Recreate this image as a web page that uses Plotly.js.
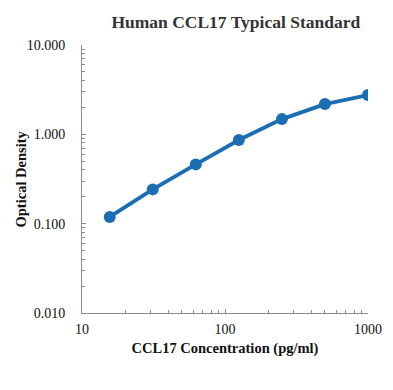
<!DOCTYPE html>
<html><head><meta charset="utf-8">
<script src="https://cdn.plot.ly/plotly-3.0.1.min.js"></script>
<style>html,body{margin:0;padding:0;background:#fff}#c{width:393px;height:390px}</style>
</head><body><div id="c"></div>
<script>
const concentration = [15.625, 31.25, 62.5, 125, 250, 500, 1000];
const opticalDensity = [0.119, 0.242, 0.461, 0.863, 1.48, 2.18, 2.75];
const yTickVals = [0.01, 0.1, 1, 10];
const yTickText = ["0.010", "0.100", "1.000", "10.000"];
const xTickVals = [10, 100, 1000];
const xTickText = ["10", "100", "1000"];

const font = "Liberation Serif, Times New Roman, serif";
Plotly.newPlot("c", [{
  x: concentration, y: opticalDensity, mode: "lines+markers", type: "scatter",
  line: {color: "#1b6db4", width: 3.8},
  marker: {color: "#1b6db4", size: 12},
  hoverinfo: "skip"
}], {
  width: 393, height: 390,
  margin: {l: 82, r: 25, t: 45, b: 77},
  paper_bgcolor: "#fff", plot_bgcolor: "#fff",
  showlegend: false,
  title: {text: "<b>Human CCL17 Typical Standard</b>", font: {family: font, size: 17.5, color: "#333"}, x: 0.6, xanchor: "center", y: 0.944, yanchor: "middle"},
  xaxis: {
    type: "log", range: [1, 3], tickvals: xTickVals, ticktext: xTickText,
    showgrid: false, zeroline: false, showline: true, linecolor: "#8c8c8c", linewidth: 1,
    ticks: "inside", ticklen: 4, tickcolor: "#8c8c8c", ticklabelstandoff: 3,
    minor: {ticks: "inside", ticklen: 3, tickcolor: "#8c8c8c", showgrid: false, dtick: "D1"},
    tickfont: {family: font, size: 14, color: "#111"},
    title: {text: "<b>CCL17 Concentration (pg/ml)</b>", font: {family: font, size: 14.5, color: "#111"}, standoff: 7}
  },
  yaxis: {
    type: "log", range: [-2, 1], tickvals: yTickVals, ticktext: yTickText,
    showgrid: false, zeroline: false, showline: true, linecolor: "#8c8c8c", linewidth: 1,
    ticks: "inside", ticklen: 4, tickcolor: "#8c8c8c", ticklabelstandoff: 13,
    minor: {ticks: "inside", ticklen: 3, tickcolor: "#8c8c8c", showgrid: false, dtick: "D1"},
    tickfont: {family: font, size: 14, color: "#111"}
  },
  annotations: [{
    text: "<b>Optical Density</b>", textangle: -90, showarrow: false,
    xref: "paper", yref: "paper", x: -0.215, y: 0.5, xanchor: "center", yanchor: "middle",
    font: {family: font, size: 14.5, color: "#111"}
  }]
}, {displayModeBar: false, staticPlot: true});
</script></body></html>
